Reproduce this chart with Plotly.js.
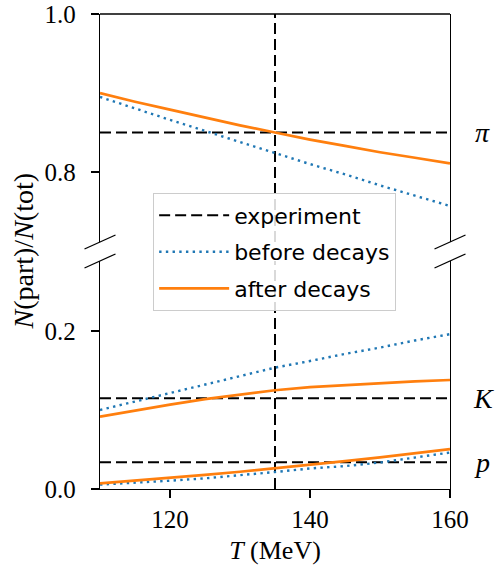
<!DOCTYPE html>
<html>
<head>
<meta charset="utf-8">
<script src="https://cdn.plot.ly/plotly-3.0.1.min.js"></script>
<style>html,body{margin:0;padding:0;background:#fff;}</style>
</head>
<body>
<div id="chart" style="width:500px;height:566px;"></div>
<script>
// Temperature grid (MeV)
const T = [110, 115, 120, 125, 130, 135, 140, 145, 150, 155, 160];
// Pion fraction
const piBefore = [0.895, 0.880, 0.866, 0.852, 0.838, 0.824, 0.810, 0.797, 0.783, 0.770, 0.757];
const piAfter  = [0.900, 0.889, 0.879, 0.869, 0.859, 0.850, 0.841, 0.833, 0.825, 0.818, 0.811];
// Kaon fraction
const KBefore = [0.100, 0.1107, 0.1214, 0.1322, 0.1429, 0.1536, 0.162, 0.171, 0.179, 0.188, 0.196];
const KAfter  = [0.0915, 0.0995, 0.1068, 0.1138, 0.1197, 0.125, 0.129, 0.1315, 0.134, 0.1362, 0.138];
// Proton fraction
const pBefore = [0.0055, 0.0078, 0.0105, 0.0135, 0.0172, 0.0215, 0.026, 0.029, 0.0335, 0.0395, 0.0462];
const pAfter  = [0.0072, 0.0105, 0.014, 0.0178, 0.0218, 0.026, 0.0305, 0.0352, 0.040, 0.0452, 0.0506];
// Experimental values
const expT = 135;
const expPi = 0.85;
const expK = 0.115;
const expP = 0.034;
// Axis ranges of the broken y axis
const yTopRange = [0.7114, 1.0];
const yBotRange = [0, 0.2886];
const xTicks = [120, 140, 160];

const tMin = Math.min(...T), tMax = Math.max(...T);
const blue = '#1f77b4', orange = '#ff7f0e';
const dashExp = {color: 'black', width: 2, dash: '11px,5px'};
const dotLine = {color: blue, width: 2.4, dash: '2.4px,4.3px'};
const solidLine = {color: orange, width: 2.7};

const traces = [
  // experiment
  {x: [tMin, tMax], y: [expPi, expPi], yaxis: 'y2', mode: 'lines', line: dashExp,
   name: 'experiment', legendgroup: 'exp', showlegend: true},
  {x: [tMin, tMax], y: [expK, expK], yaxis: 'y', mode: 'lines', line: dashExp,
   name: 'experiment', legendgroup: 'exp', showlegend: false},
  {x: [tMin, tMax], y: [expP, expP], yaxis: 'y', mode: 'lines', line: dashExp,
   name: 'experiment', legendgroup: 'exp', showlegend: false},
  {x: [expT, expT], y: yTopRange, yaxis: 'y2', mode: 'lines', line: dashExp,
   name: 'experiment', legendgroup: 'exp', showlegend: false},
  {x: [expT, expT], y: yBotRange, yaxis: 'y', mode: 'lines', line: dashExp,
   name: 'experiment', legendgroup: 'exp', showlegend: false},
  // before decays
  {x: T, y: piBefore, yaxis: 'y2', mode: 'lines', line: dotLine,
   name: 'before decays', legendgroup: 'before', showlegend: true},
  {x: T, y: KBefore, yaxis: 'y', mode: 'lines', line: dotLine,
   name: 'before decays', legendgroup: 'before', showlegend: false},
  {x: T, y: pBefore, yaxis: 'y', mode: 'lines', line: dotLine,
   name: 'before decays', legendgroup: 'before', showlegend: false},
  // after decays
  {x: T, y: piAfter, yaxis: 'y2', mode: 'lines', line: solidLine,
   name: 'after decays', legendgroup: 'after', showlegend: true},
  {x: T, y: KAfter, yaxis: 'y', mode: 'lines', line: solidLine,
   name: 'after decays', legendgroup: 'after', showlegend: false},
  {x: T, y: pAfter, yaxis: 'y', mode: 'lines', line: solidLine,
   name: 'after decays', legendgroup: 'after', showlegend: false}
];

const serif = '"Liberation Serif", "DejaVu Serif", serif';
const axCommon = {
  showgrid: false, zeroline: false, showline: true, linecolor: 'black', linewidth: 1.3,
  ticks: 'outside', ticklen: 8, tickwidth: 1.3, tickcolor: 'black',
  tickfont: {family: serif, size: 25, color: 'black'}
};

// break marks geometry (paper units)
const bx = 15.5 / 350, by = 7 / 475;
const yBotTop = 0.48, yTopBot = 0.52;
const mk = (x0, y0) => ({type: 'line', xref: 'paper', yref: 'paper',
  x0: x0 - bx, y0: y0 - by, x1: x0 + bx, y1: y0 + by, line: {color: 'black', width: 1.3}});

const layout = {
  width: 500, height: 566,
  margin: {l: 100, r: 50, t: 14, b: 77, pad: 0},
  paper_bgcolor: 'white', plot_bgcolor: 'white',
  font: {family: serif, color: 'black'},
  xaxis: Object.assign({}, axCommon, {
    range: [tMin, tMax], tickvals: xTicks, anchor: 'y',
    title: {text: '<i>T</i> (MeV)', font: {family: serif, size: 26, color: 'black'}, standoff: 8}
  }),
  yaxis: Object.assign({}, axCommon, {
    domain: [0, yBotTop], range: yBotRange, tickvals: [0, 0.2], ticktext: ['0.0', '0.2'],
    mirror: true, anchor: 'x', ticklabelstandoff: 10
  }),
  yaxis2: Object.assign({}, axCommon, {
    domain: [yTopBot, 1], range: yTopRange, tickvals: [0.8, 1.0], ticktext: ['0.8', '1.0'],
    mirror: true, anchor: 'x', ticklabelstandoff: 10
  }),
  showlegend: true,
  legend: {
    x: 0.151, y: 0.623, xanchor: 'left', yanchor: 'top',
    bgcolor: 'rgba(255,255,255,0.85)', bordercolor: '#cccccc', borderwidth: 1.3,
    font: {family: '"DejaVu Sans", sans-serif', size: 22, color: 'black'},
    traceorder: 'grouped', tracegroupgap: 5, itemwidth: 70
  },
  shapes: [
    {type: 'line', xref: 'paper', yref: 'paper', x0: 0, x1: 1, y0: 1, y1: 1,
     line: {color: 'black', width: 1.3}},
    mk(0, yTopBot), mk(0, yBotTop), mk(1, yTopBot), mk(1, yBotTop)
  ],
  annotations: [
    {text: '<i>N</i>(part)/<i>N</i>(tot)', xref: 'paper', yref: 'paper', x: -77 / 350, y: 0.5,
     xanchor: 'center', yanchor: 'middle',
     textangle: -90, showarrow: false, font: {family: serif, size: 28, color: 'black'}},
    {text: '<i>π</i>', xref: 'paper', yref: 'y2', x: 382 / 350, y: expPi, showarrow: false,
     xanchor: 'center', yanchor: 'middle', font: {family: serif, size: 28, color: 'black'}},
    {text: '<i>K</i>', xref: 'paper', yref: 'y', x: 383 / 350, y: expK, showarrow: false,
     xanchor: 'center', yanchor: 'middle', font: {family: serif, size: 28, color: 'black'}},
    {text: '<i>p</i>', xref: 'paper', yref: 'y', x: 382 / 350, y: expP, showarrow: false,
     xanchor: 'center', yanchor: 'middle', font: {family: serif, size: 28, color: 'black'}}
  ]
};

Plotly.newPlot('chart', traces, layout, {staticPlot: true, displayModeBar: false});
</script>
</body>
</html>
